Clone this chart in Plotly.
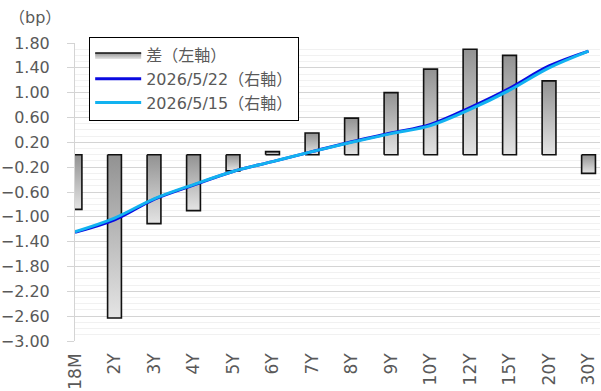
import plotly.graph_objects as go

# Tenors on the category axis
tenors = ["18M", "2Y", "3Y", "4Y", "5Y", "6Y", "7Y", "8Y", "9Y", "10Y", "12Y", "15Y", "20Y", "30Y"]

# Week-over-week change (bp, left axis)
diff_bp = [-0.88, -2.63, -1.11, -0.90, -0.26, 0.05, 0.35, 0.59, 1.00, 1.38, 1.70, 1.60, 1.19, -0.30]

# Yield curves (right axis, hidden; shown on the same scale as the left axis)
curve_0522 = [-1.25, -1.05, -0.72, -0.49, -0.27, -0.11, 0.05, 0.21, 0.35, 0.49, 0.76, 1.07, 1.43, 1.67]
curve_0515 = [-1.24, -1.02, -0.71, -0.48, -0.27, -0.11, 0.05, 0.20, 0.34, 0.47, 0.73, 1.04, 1.40, 1.67]

# Y axis ticks
y_ticks = [-3.0, -2.6, -2.2, -1.8, -1.4, -1.0, -0.6, -0.2, 0.2, 0.6, 1.0, 1.4, 1.8]

FONT = "DejaVu Sans, Noto Sans CJK JP, sans-serif"
GREY_TXT = "#595959"
BAR_HALF = 0.175
X_RANGE = [0, 13.29]
Y_RANGE = [-3.0, 1.8]

fig = go.Figure()

# Bars drawn as filled polygons so each one gets its own vertical gradient
for i, v in enumerate(diff_bp):
    fig.add_trace(go.Scatter(
        x=[i - BAR_HALF, i - BAR_HALF, i + BAR_HALF, i + BAR_HALF, i - BAR_HALF],
        y=[0, v, v, 0, 0],
        mode="lines",
        fill="toself",
        fillgradient=dict(type="vertical",
                          colorscale=[[0, "#e4e4e4"], [1, "#929292"]]),
        line=dict(color="#111111", width=1.6),
        name="差（左軸）",
        legendgroup="diff",
        showlegend=(i == 0),
        hoverinfo="skip",
    ))

fig.add_trace(go.Scatter(
    x=list(range(len(tenors))), y=curve_0522,
    mode="lines", line=dict(color="#0a0ae0", width=3, shape="spline"),
    name="2026/5/22（右軸）", yaxis="y2",
))
fig.add_trace(go.Scatter(
    x=list(range(len(tenors))), y=curve_0515,
    mode="lines", line=dict(color="#12b2f0", width=3, shape="spline"),
    name="2026/5/15（右軸）", yaxis="y2",
))

zero_pos = (0 - Y_RANGE[0]) / (Y_RANGE[1] - Y_RANGE[0])

axis_tick_common = dict(
    overlaying="x", anchor="free", position=zero_pos,
    range=X_RANGE, tickvals=list(range(len(tenors))),
    showticklabels=False, showgrid=False, zeroline=False,
    ticklen=7, tickcolor="#d4d4d4", tickwidth=1, automargin=False,
)

fig.update_layout(
    width=601, height=391,
    margin=dict(l=75, r=1, t=43, b=50),
    paper_bgcolor="white", plot_bgcolor="white",
    font=dict(family=FONT, color=GREY_TXT, size=15),
    xaxis=dict(
        range=X_RANGE, automargin=False,
        tickmode="array", tickvals=list(range(len(tenors))), ticktext=tenors,
        tickangle=-90, tickfont=dict(size=17, color=GREY_TXT),
        showgrid=False, zeroline=False, showline=False, ticks="",
        ticklabelstandoff=8,
    ),
    xaxis2=dict(ticks="outside", showline=True, linecolor="#d4d4d4", linewidth=1,
                **axis_tick_common),
    xaxis3=dict(ticks="inside", showline=False, **axis_tick_common),
    yaxis=dict(
        range=Y_RANGE, automargin=False,
        tickmode="array", tickvals=y_ticks, tickformat=".2f",
        tickfont=dict(size=16, color=GREY_TXT),
        showgrid=True, gridcolor="#d4d4d4", gridwidth=1,
        minor=dict(dtick=0.1, tick0=-3.0, showgrid=True, gridcolor="#f1f1f1", gridwidth=1),
        zeroline=False,
        showline=True, linecolor="#d4d4d4", linewidth=1,
        ticks="outside", ticklen=7, tickcolor="#d4d4d4",
        ticklabelstandoff=14,
    ),
    yaxis2=dict(
        range=Y_RANGE, overlaying="y", side="right", automargin=False,
        visible=False, showgrid=False, zeroline=False,
    ),
    legend=dict(
        x=0.027, y=1.02, xanchor="left", yanchor="top",
        bgcolor="white", bordercolor="#000000", borderwidth=1,
        font=dict(size=16, color=GREY_TXT),
        tracegroupgap=0, itemwidth=46,
    ),
    annotations=[dict(
        text="（bp）", xref="paper", yref="paper",
        x=-0.13, y=1.085, xanchor="left", yanchor="middle",
        showarrow=False, font=dict(size=16, color=GREY_TXT),
    )],
    showlegend=True,
)

fig.write_html("out.html")
